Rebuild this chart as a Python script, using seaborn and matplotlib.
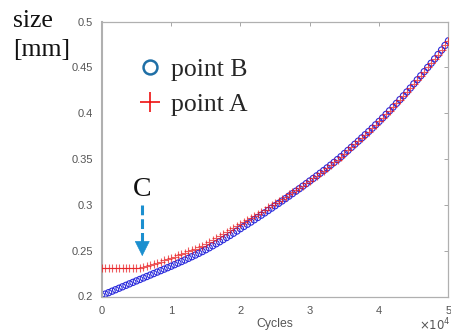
import numpy as np
import pandas as pd
import matplotlib
matplotlib.use('Agg')
import matplotlib.pyplot as plt
from matplotlib.lines import Line2D
from matplotlib.ticker import FuncFormatter
import seaborn as sns

# cycles, one marker every 500 cycles
cycles = np.arange(0, 50001, 500)

# point B (blue circles)
size_b = [0.2010, 0.2026, 0.2042, 0.2058, 0.2074, 0.2090, 0.2106, 0.2122, 0.2138, 0.2154, 0.2170,
          0.2186, 0.2202, 0.2218, 0.2234, 0.2250, 0.2266, 0.2282, 0.2298, 0.2314, 0.2330,
          0.2347, 0.2364, 0.2381, 0.2398, 0.2416, 0.2434, 0.2452, 0.2471, 0.2490, 0.2510,
          0.2531, 0.2553, 0.2575, 0.2597, 0.2620, 0.2643, 0.2666, 0.2690, 0.2714, 0.2740,
          0.2764, 0.2788, 0.2812, 0.2837, 0.2862, 0.2887, 0.2912, 0.2938, 0.2964, 0.2990,
          0.3016, 0.3042, 0.3068, 0.3095, 0.3122, 0.3149, 0.3176, 0.3204, 0.3232, 0.3260,
          0.3288, 0.3316, 0.3345, 0.3374, 0.3403, 0.3433, 0.3463, 0.3494, 0.3526, 0.3560,
          0.3593, 0.3627, 0.3661, 0.3695, 0.3730, 0.3765, 0.3800, 0.3836, 0.3873, 0.3910,
          0.3948, 0.3987, 0.4026, 0.4066, 0.4107, 0.4148, 0.4189, 0.4231, 0.4274, 0.4320,
          0.4364, 0.4408, 0.4453, 0.4499, 0.4545, 0.4592, 0.4640, 0.4689, 0.4739, 0.4790]

# point A (red plus), flat until ~6000 cycles then joins B
size_a = [0.2315, 0.2315, 0.2315, 0.2315, 0.2315, 0.2315, 0.2315, 0.2315, 0.2315, 0.2315, 0.2315,
          0.2315, 0.2320, 0.2332, 0.2344, 0.2356, 0.2368, 0.2380, 0.2393, 0.2406, 0.2420,
          0.2434, 0.2448, 0.2462, 0.2476, 0.2491, 0.2506, 0.2521, 0.2537, 0.2553, 0.2570,
          0.2591, 0.2613, 0.2634, 0.2656, 0.2678, 0.2701, 0.2723, 0.2746, 0.2770, 0.2795,
          0.2816, 0.2838, 0.2859, 0.2882, 0.2904, 0.2927, 0.2949, 0.2973, 0.2996, 0.3020,
          0.3043, 0.3066, 0.3089, 0.3113, 0.3137, 0.3161, 0.3185, 0.3210, 0.3235, 0.3260,
          0.3288, 0.3316, 0.3345, 0.3374, 0.3403, 0.3433, 0.3463, 0.3494, 0.3526, 0.3560,
          0.3593, 0.3627, 0.3661, 0.3695, 0.3730, 0.3765, 0.3800, 0.3836, 0.3873, 0.3910,
          0.3948, 0.3987, 0.4026, 0.4066, 0.4107, 0.4148, 0.4189, 0.4231, 0.4274, 0.4320,
          0.4364, 0.4408, 0.4453, 0.4499, 0.4545, 0.4592, 0.4640, 0.4689, 0.4739, 0.4790]

x_ticks = [0, 10000, 20000, 30000, 40000, 50000]
y_ticks = [0.2, 0.25, 0.3, 0.35, 0.4, 0.45, 0.5]

df = pd.DataFrame({'cycles': cycles, 'B': size_b, 'A': size_a})

sns.set_style('white')
plt.rcParams['font.family'] = ['Liberation Sans', 'DejaVu Sans']

fig = plt.figure(figsize=(4.52, 3.32), dpi=100)
ax = fig.add_axes([101.7/452, 1 - 296.5/332, (448.5 - 101.7)/452, (296.5 - 21.5)/332])

sns.scatterplot(data=df, x='cycles', y='B', ax=ax, marker='o', s=20,
                facecolors='none', edgecolor='#2b2bdc', linewidth=0.8, zorder=2)
sns.scatterplot(data=df, x='cycles', y='A', ax=ax, marker='+', s=30,
                color='#e8191c', linewidth=0.8, alpha=0.7, zorder=3)

ax.set_xlim(0, 50000)
ax.set_ylim(0.2, 0.5)
ax.set_xticks(x_ticks)
ax.set_yticks(y_ticks)
ax.xaxis.set_major_formatter(FuncFormatter(lambda v, p: '%g' % (v / 10000)))
ax.yaxis.set_major_formatter(FuncFormatter(lambda v, p: '%g' % v))
ax.tick_params(direction='in', length=3, width=0.6, color='#999999',
               labelsize=8, labelcolor='#555555', top=True, right=True)
ax.tick_params(axis='y', pad=6)
ax.tick_params(axis='x', pad=7)
for s in ax.spines.values():
    s.set_color('#b0b0b0')
    s.set_linewidth(0.9)
ax.spines['left'].set_linewidth(1.5)
ax.set_xlabel('Cycles', fontsize=8.8, color='#555555', labelpad=1)
ax.set_ylabel('')
fig.text(451/452, 1 - 325/332, r'$\times10^{4}$', fontsize=8.5, color='#555555',
         va='center', ha='right')

# arrow pointing to C
arrow_color = '#1b8fcf'
ax.plot([5850, 5850], [0.300, 0.256], ls=(0, (3.2, 1.3)), lw=2.2, color=arrow_color)
ax.annotate('', xy=(5850, 0.241), xytext=(5850, 0.259),
            arrowprops=dict(arrowstyle='-|>,head_width=0.5,head_length=1.0',
                            color=arrow_color, lw=0.5))
ax.text(5850, 0.3167, 'C', fontsize=20, family='Liberation Serif', color='#111111',
        ha='center', va='center')

# legend
handles = [Line2D([], [], ls='none', marker='o', mfc='none', mec='#1f6fa6', ms=10, mew=1.8),
           Line2D([], [], ls='none', marker='+', color='#ee1111', ms=15, mew=1.2)]
fig.legend(handles, ['point B', 'point A'], loc='upper left',
           bbox_to_anchor=(138/452, 1 - 58/332), bbox_transform=fig.transFigure,
           frameon=False, borderpad=0, borderaxespad=0, handlelength=0.9,
           handletextpad=0.4, labelspacing=0.45,
           prop={'family': 'Liberation Serif', 'size': 18.5})

fig.text(13/452, 1 - 27/332, 'size', fontsize=18.5, family='Liberation Serif',
         color='#111111', va='baseline', ha='left')
fig.text(13/452, 1 - 56/332, '[mm]', fontsize=18.5, family='Liberation Serif',
         color='#111111', va='baseline', ha='left')

fig.savefig('out.png', dpi=100)
